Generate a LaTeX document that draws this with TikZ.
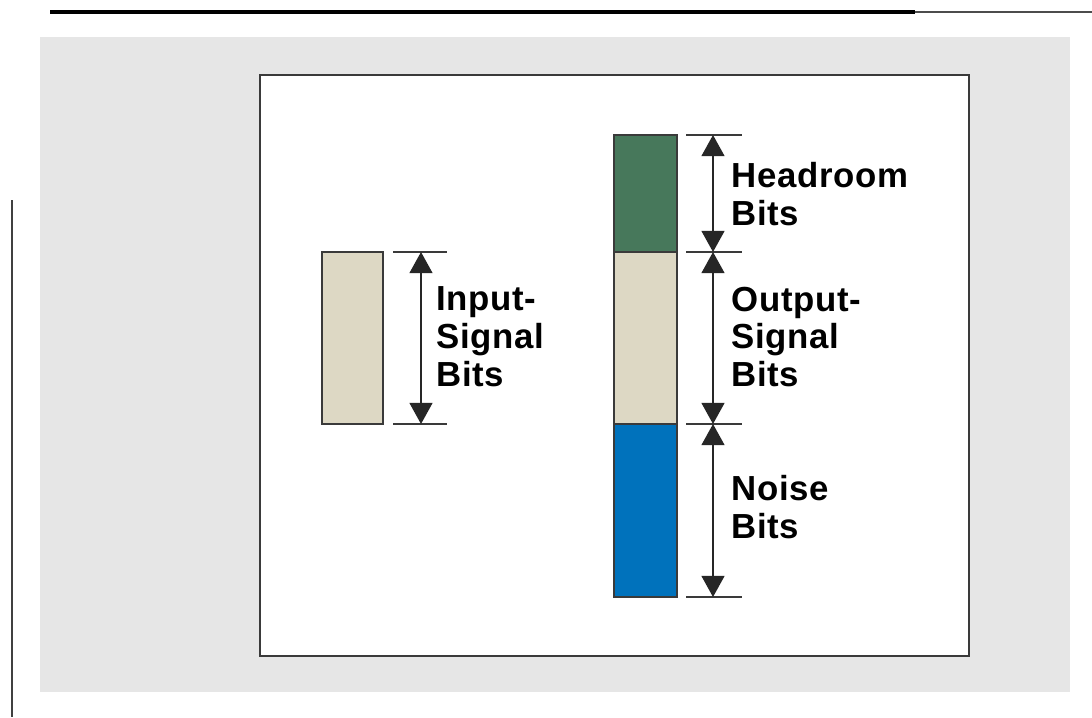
\documentclass[tikz,border=0pt]{standalone}
\usepackage{fontspec}
\setmainfont{Liberation Sans}
\usetikzlibrary{arrows.meta}

\definecolor{panelgray}{HTML}{E6E6E6}
\definecolor{headgreen}{HTML}{47785B}
\definecolor{sigbeige}{HTML}{DDD8C4}
\definecolor{noiseblue}{HTML}{0072BC}
\definecolor{edgegray}{HTML}{3A3A3A}

\tikzset{
  bar/.style={draw=edgegray,line width=1.2pt},
  tick/.style={draw=edgegray,line width=0.9pt},
  span/.style={draw=black!85,line width=1pt,{Triangle[width=13pt,length=12pt]}-{Triangle[width=13pt,length=12pt]}},
  lbl/.style={anchor=west,align=left,inner sep=0pt,font=\bfseries\addfontfeature{LetterSpace=2}\fontsize{19.8}{21.6}\selectfont}
}

\begin{document}
\begin{tikzpicture}[x=.02cm,y=-.02cm]
\useasboundingbox (0,0) rectangle (1092,717);
% frame
\draw[line width=2.2pt] (50,12)--(915,12);
\draw[black!70,line width=1pt] (915,12)--(1092,12);
\draw[black!75,line width=1.3pt] (12,200)--(12,717);
\fill[panelgray] (40,37) rectangle (1070,692);
\draw[fill=white,draw=edgegray,line width=1.4pt] (260,75) rectangle (969,656);

% input bar
\draw[bar,fill=sigbeige] (322,252) rectangle (383,424);
\coordinate (i1) at (421,252); \coordinate (i2) at (421,424);
\draw[tick] (393,252)--(447,252) (393,424)--(447,424);
\draw[span] (i1)--(i2);
\node[lbl] (inp) at (436,337) {Input-\\Signal\\Bits};

% output bar
\draw[bar,fill=headgreen] (614,135) rectangle (677,252);
\draw[bar,fill=sigbeige] (614,252) rectangle (677,424);
\draw[bar,fill=noiseblue] (614,424) rectangle (677,597);
\foreach \y/\n in {135/a,252/b,424/c,597/d} {
  \coordinate (o\n) at (713,\y);
  \draw[tick] (686,\y)--(742,\y);
}
\draw[span] (oa)--(ob);
\draw[span] (ob)--(oc);
\draw[span] (oc)--(od);
\node[lbl] (head) at (731,194) {Headroom\\Bits};
\node[lbl] (outp) at (731,337) {Output-\\Signal\\Bits};
\node[lbl] (noise) at (731,507) {Noise\\Bits};
\end{tikzpicture}
\end{document}
